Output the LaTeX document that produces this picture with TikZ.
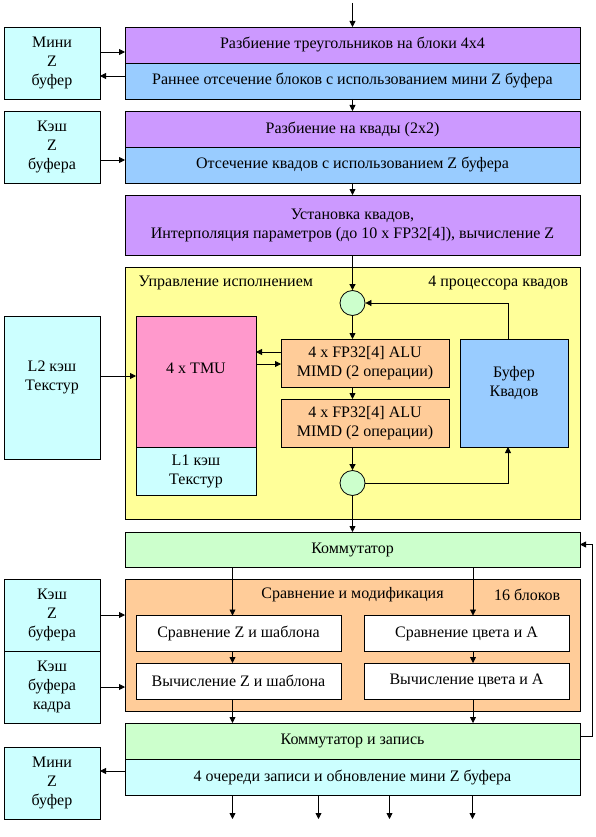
\documentclass[tikz,border=0pt]{standalone}
\usepackage{fontspec}
\setmainfont{Liberation Serif}
\usetikzlibrary{positioning,arrows.meta}
\definecolor{lilac}{HTML}{CC99FF}
\definecolor{skyblue}{HTML}{99CCFF}
\definecolor{icecyan}{HTML}{CCFFFF}
\definecolor{paleyel}{HTML}{FFFF99}
\definecolor{rosepink}{HTML}{FF99CC}
\definecolor{peach}{HTML}{FFCC99}
\definecolor{mint}{HTML}{CCFFCC}
\begin{document}
\begin{tikzpicture}[x=1pt, y=-1pt, line width=0.8pt, font=\fontsize{16}{19}\selectfont,
    box/.style = {draw, inner sep=0pt, outer sep=0pt, align=center},
    wide/.style = {box, minimum width=455pt, minimum height=36pt},
    side/.style = {box, fill=icecyan, minimum width=96pt, minimum height=72pt},
    alu/.style = {box, fill=peach, minimum width=168pt, minimum height=48pt},
    test/.style = {box, fill=white, minimum width=205pt, minimum height=36pt},
    joint/.style = {draw, circle, fill=mint, minimum size=25pt, inner sep=0pt},
    arr/.style = {-{Triangle[length=6pt,width=6pt]}}]
    \useasboundingbox (0,0) rectangle (595,837);
    % setup part
    \coordinate (in) at (352.5,3);
    \node[wide, fill=lilac] (r1) at (352.5,45) {Разбиение треугольников на блоки 4x4};
    \node[wide, fill=skyblue, below=0pt of r1] (r2) {Раннее отсечение блоков с использованием мини Z буфера};
    \node[side] (mz1) at (52,63) {Мини\\Z\\буфер};
    \node[wide, fill=lilac] (r3) at (352.5,129) {Разбиение на квады (2x2)};
    \node[wide, fill=skyblue, below=0pt of r3] (r4) {Отсечение квадов с использованием Z буфера};
    \node[side] (kz1) at (52,147) {Кэш\\Z\\буфера};
    \node[wide, fill=lilac, minimum height=60pt] (r5) at (352.5,225) {Установка квадов,\\Интерполяция параметров (до 10 x FP32[4]), вычисление Z};
    \draw[arr] (in) -- (r1);
    \draw[arr] ([yshift=11pt]mz1.east) -- ([yshift=11pt]mz1.east -| r1.west);
    \draw[arr] ([yshift=-13pt]mz1.east -| r2.west) -- ([yshift=-13pt]mz1.east);
    \draw[arr] (r2) -- (r3);
    \draw[arr] ([yshift=-13pt]kz1.east) -- ([yshift=-13pt]kz1.east -| r4.west);
    \draw[arr] (r4) -- (r5);
    % quad processors
    \node[box, fill=paleyel, minimum width=455pt, minimum height=252pt] (ctl) at (352.5,393) {};
    \node[anchor=west] (ctlname) at ([shift={(10,16)}]ctl.north west) {Управление исполнением};
    \node[anchor=east] (ctlnum) at ([shift={(-8,16)}]ctl.north east) {4 процессора квадов};
    \node[joint] (c1) at (352.5,303) {};
    \node[joint] (c2) at (352.5,483) {};
    \node[side, minimum height=143pt] (l2) at (52,387.5) {};
    \node (l2txt) at ([yshift=10.5pt]l2) [align=center] {L2 кэш\\Текстур};
    \node[box, fill=rosepink, minimum width=120pt, minimum height=131pt] (tmu) at (196,381.5) {};
    \node (tmutxt) at ([yshift=13.5pt]tmu) {4 x TMU};
    \node[box, fill=icecyan, minimum width=120pt, minimum height=48pt, below=0pt of tmu] (l1) {L1 кэш\\Текстур};
    \node[alu] (alu1) at (365,363) {4 x FP32[4] ALU\\MIMD (2 операции)};
    \node[alu] (alu2) at (365,423) {4 x FP32[4] ALU\\MIMD (2 операции)};
    \node[box, fill=skyblue, minimum width=108pt, minimum height=108pt] (buf) at (514,393) {};
    \node (buftxt) at ([yshift=10pt]buf) [align=center] {Буфер\\Квадов};
    \draw[arr] (r5) -- (c1);
    \draw[arr] (c1) -- (c1 |- alu1.north);
    \draw[arr] (c1 |- alu1.south) -- (c1 |- alu2.north);
    \draw[arr] (c1 |- alu2.south) -- (c2);
    \draw[arr] ([yshift=11.5pt]l2.east) -- ([yshift=11.5pt]l2.east -| tmu.west);
    \draw[arr] ([yshift=11pt]alu1.west) -- ([yshift=11pt]alu1.west -| tmu.east);
    \draw[arr] ([yshift=-1pt]alu1.west -| tmu.east) -- ([yshift=-1pt]alu1.west);
    \draw[arr] (c2.east) -| ([xshift=-6pt]buf.south);
    \draw[arr] ([xshift=-6pt]buf.north) |- (c1.east);
    % raster operations
    \node[wide, fill=mint, minimum height=35pt] (kom) at (352.5,549.5) {Коммутатор};
    \node[box, fill=peach, minimum width=455pt, minimum height=132pt] (cmp) at (352.5,645) {};
    \node (cmpname) at ([yshift=-16pt]cmp.north) {Сравнение и модификация};
    \node[anchor=east] (cmpnum) at ([shift={(-16,16)}]cmp.north east) {16 блоков};
    \node[test] (cz1) at (238.5,633.5) {Сравнение Z и шаблона};
    \node[test] (cz2) at (238.5,681) {Вычисление Z и шаблона};
    \node[test] (cc1) at (466.5,633.5) {Сравнение цвета и A};
    \node[test] (cc2) at (466.5,681) {Вычисление цвета и A};
    \node[side] (kz2) at (52,615) {Кэш\\Z\\буфера};
    \node[side] (kk) at (52,687) {Кэш\\буфера\\кадра};
    \node[wide, fill=mint] (kw) at (352.5,741) {Коммутатор и запись};
    \node[wide, fill=icecyan, below=0pt of kw] (q4) {4 очереди записи и обновление мини Z буфера};
    \node[side] (mz2) at (52,783) {Мини\\Z\\буфер};
    \draw[arr] (c2) -- (kom);
    \draw[arr] ([xshift=-6pt]cz1.north |- kom.south) -- ([xshift=-6pt]cz1.north);
    \draw[arr] ([xshift=-6pt]cz1.south) -- ([xshift=-6pt]cz2.north);
    \draw[arr] ([xshift=-6pt]cz2.south) -- ([xshift=-6pt]cz2.south |- kw.north);
    \draw[arr] ([xshift=6.5pt]cc1.north |- kom.south) -- ([xshift=6.5pt]cc1.north);
    \draw[arr] ([xshift=6.5pt]cc1.south) -- ([xshift=6.5pt]cc2.north);
    \draw[arr] ([xshift=6.5pt]cc2.south) -- ([xshift=6.5pt]cc2.south |- kw.north);
    \draw[arr] (kz2.east) -- (kz2.east -| cmp.west);
    \draw[arr] (kk.east) -- (kk.east -| cmp.west);
    \draw[arr] ([yshift=5pt]kw.east) -- ++(12,0) |- ([yshift=5pt]kom.east);
    \draw[arr] ([yshift=6pt]q4.west) -- ([yshift=6pt]q4.west -| mz2.east);
    \foreach \dx in {-120,-34,37,120}
        \draw[arr] ([xshift=\dx pt]q4.south) -- ++(0,24);
\end{tikzpicture}
\end{document}
